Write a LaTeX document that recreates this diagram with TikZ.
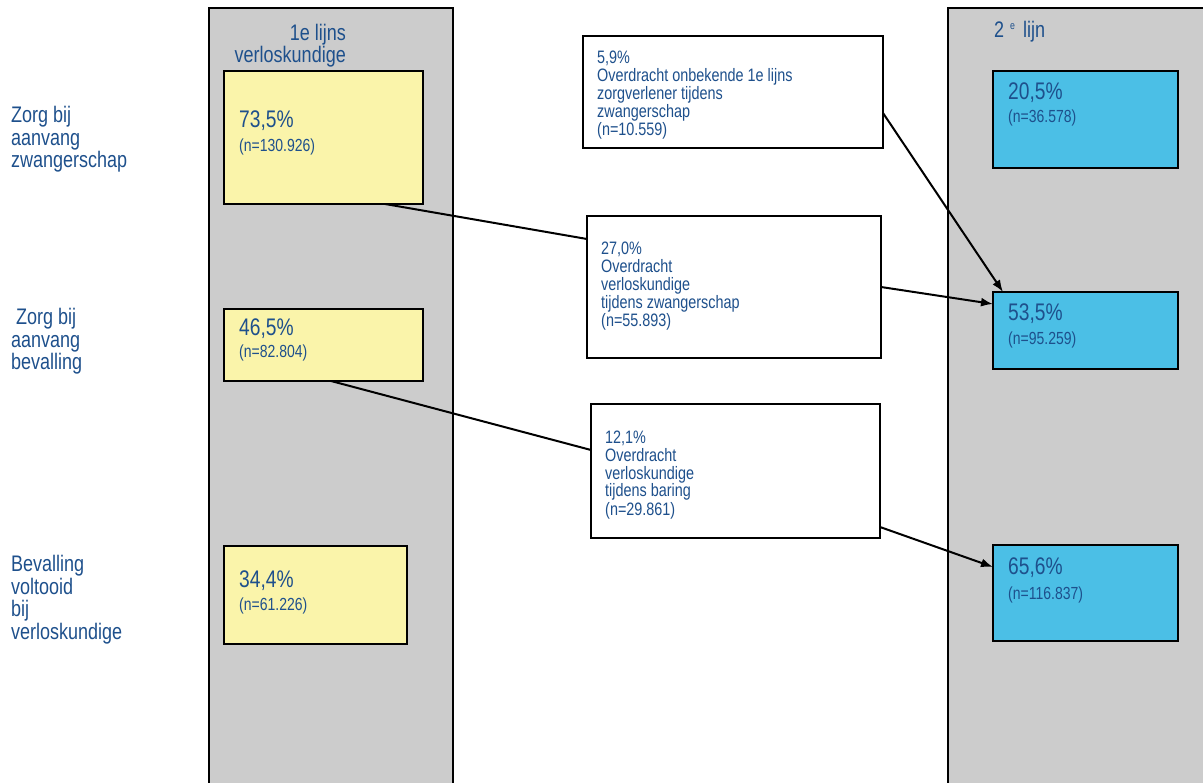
\documentclass[tikz,border=0pt]{standalone}
\usepackage{fontspec}
\setmainfont{Liberation Sans}[FakeStretch=0.8]
\usetikzlibrary{arrows.meta}
\definecolor{txtblue}{RGB}{30,80,140}
\definecolor{colgray}{RGB}{204,204,204}
\definecolor{boxyellow}{RGB}{250,244,170}
\definecolor{boxblue}{RGB}{75,191,230}

\begin{document}
\begin{tikzpicture}[x=1pt,y=-1pt,
    yellowbox/.style={draw,line width=2.5pt,fill=boxyellow,anchor=north west,inner sep=0pt,outer sep=0pt},
    bluebox/.style={draw,line width=2.5pt,fill=boxblue,anchor=north west,inner sep=0pt,outer sep=0pt},
    whitebox/.style={draw,line width=2.5pt,fill=white,anchor=north west,inner sep=0pt,outer sep=0pt},
    rowlabel/.style={anchor=base west,align=left,inner sep=0pt,text=txtblue,font=\fontsize{22.5}{22.5}\selectfont},
    pct/.style={anchor=base west,inner sep=0pt,text=txtblue,font=\fontsize{24}{24}\selectfont},
    cnt/.style={anchor=base west,inner sep=0pt,text=txtblue,font=\fontsize{17.5}{18}\selectfont},
    note/.style={anchor=base west,align=left,inner sep=0pt,text=txtblue,font=\fontsize{18}{18}\selectfont},
    link/.style={line width=2pt},
    tip/.style={-{Latex[length=12pt,width=9pt]}}]
  \useasboundingbox (0,0) rectangle (1203,783);

  % columns
  \draw[line width=2pt,fill=colgray] (209,8) rectangle (453,800);
  \draw[line width=2pt,fill=colgray] (948,8) rectangle (1220,800);
  \node[rowlabel,align=right,anchor=base east] (title1) at (346,63) {1e lijns\\verloskundige};
  \node[rowlabel] (title2) at (994,38) {2\hspace{6pt}\raisebox{8pt}{\fontsize{11}{11}\selectfont e}\hspace{8pt}lijn};

  % row labels (anchored at last line)
  \node[rowlabel] (row1) at (11,168) {Zorg bij\\aanvang\\zwangerschap};
  \node[rowlabel] (row2) at (16,325) {Zorg bij};
  \node[rowlabel] (row2b) at (11,370) {aanvang\\bevalling};
  \node[rowlabel] (row3) at (11,639) {Bevalling\\voltooid\\bij\\verloskundige};

  % 1e lijn boxes
  \node[yellowbox,minimum width=199pt,minimum height=133pt] (y1) at (224,71) {};
  \node[pct] (y1p) at (239,128) {73,5\%};
  \node[cnt] (y1n) at (239,152) {(n=130.926)};
  \node[yellowbox,minimum width=199pt,minimum height=72pt] (y2) at (224,309) {};
  \node[pct] (y2p) at (239,336) {46,5\%};
  \node[cnt] (y2n) at (239,358) {(n=82.804)};
  \node[yellowbox,minimum width=183pt,minimum height=98pt] (y3) at (224,546) {};
  \node[pct] (y3p) at (239,587) {34,4\%};
  \node[cnt] (y3n) at (239,610) {(n=61.226)};

  % 2e lijn boxes
  \node[bluebox,minimum width=185pt,minimum height=97pt] (b1) at (993,71) {};
  \node[pct] (b1p) at (1008,100) {20,5\%};
  \node[cnt] (b1n) at (1008,123) {(n=36.578)};
  \node[bluebox,minimum width=185pt,minimum height=77pt] (b2) at (993,292) {};
  \node[pct] (b2p) at (1008,321) {53,5\%};
  \node[cnt] (b2n) at (1008,345) {(n=95.259)};
  \node[bluebox,minimum width=185pt,minimum height=96pt] (b3) at (993,545) {};
  \node[pct] (b3p) at (1008,574) {65,6\%};
  \node[cnt] (b3n) at (1008,599) {(n=116.837)};

  % overdracht (anchored at last line)
  \node[whitebox,minimum width=300pt,minimum height=112pt] (w1) at (583,36) {};
  \node[note] (w1t) at (597,136) {5,9\%\\Overdracht onbekende 1e lijns\\zorgverlener tijdens\\zwangerschap\\(n=10.559)};
  \node[whitebox,minimum width=294pt,minimum height=142pt] (w2) at (587,216) {};
  \node[note] (w2t) at (601,327) {27,0\%\\Overdracht\\verloskundige\\tijdens zwangerschap\\(n=55.893)};
  \node[whitebox,minimum width=289pt,minimum height=134pt] (w3) at (591,404) {};
  \node[note] (w3t) at (605,515) {12,1\%\\Overdracht\\verloskundige\\tijdens baring\\(n=29.861)};

  \draw[link] ([xshift=161pt]y1.south west) -- ([yshift=-23pt]w2.north west);
  \draw[link,tip] ([yshift=-71pt]w2.north east) -- ([yshift=-12pt]b2.north west);
  \draw[link,tip] ([yshift=-77pt]w1.north east) -- ([xshift=10pt]b2.north west);
  \draw[link] ([xshift=107pt]y2.south west) -- ([yshift=-46pt]w3.north west);
  \draw[link,tip] ([yshift=-123pt]w3.north east) -- ([yshift=-22pt]b3.north west);
\end{tikzpicture}
\end{document}
